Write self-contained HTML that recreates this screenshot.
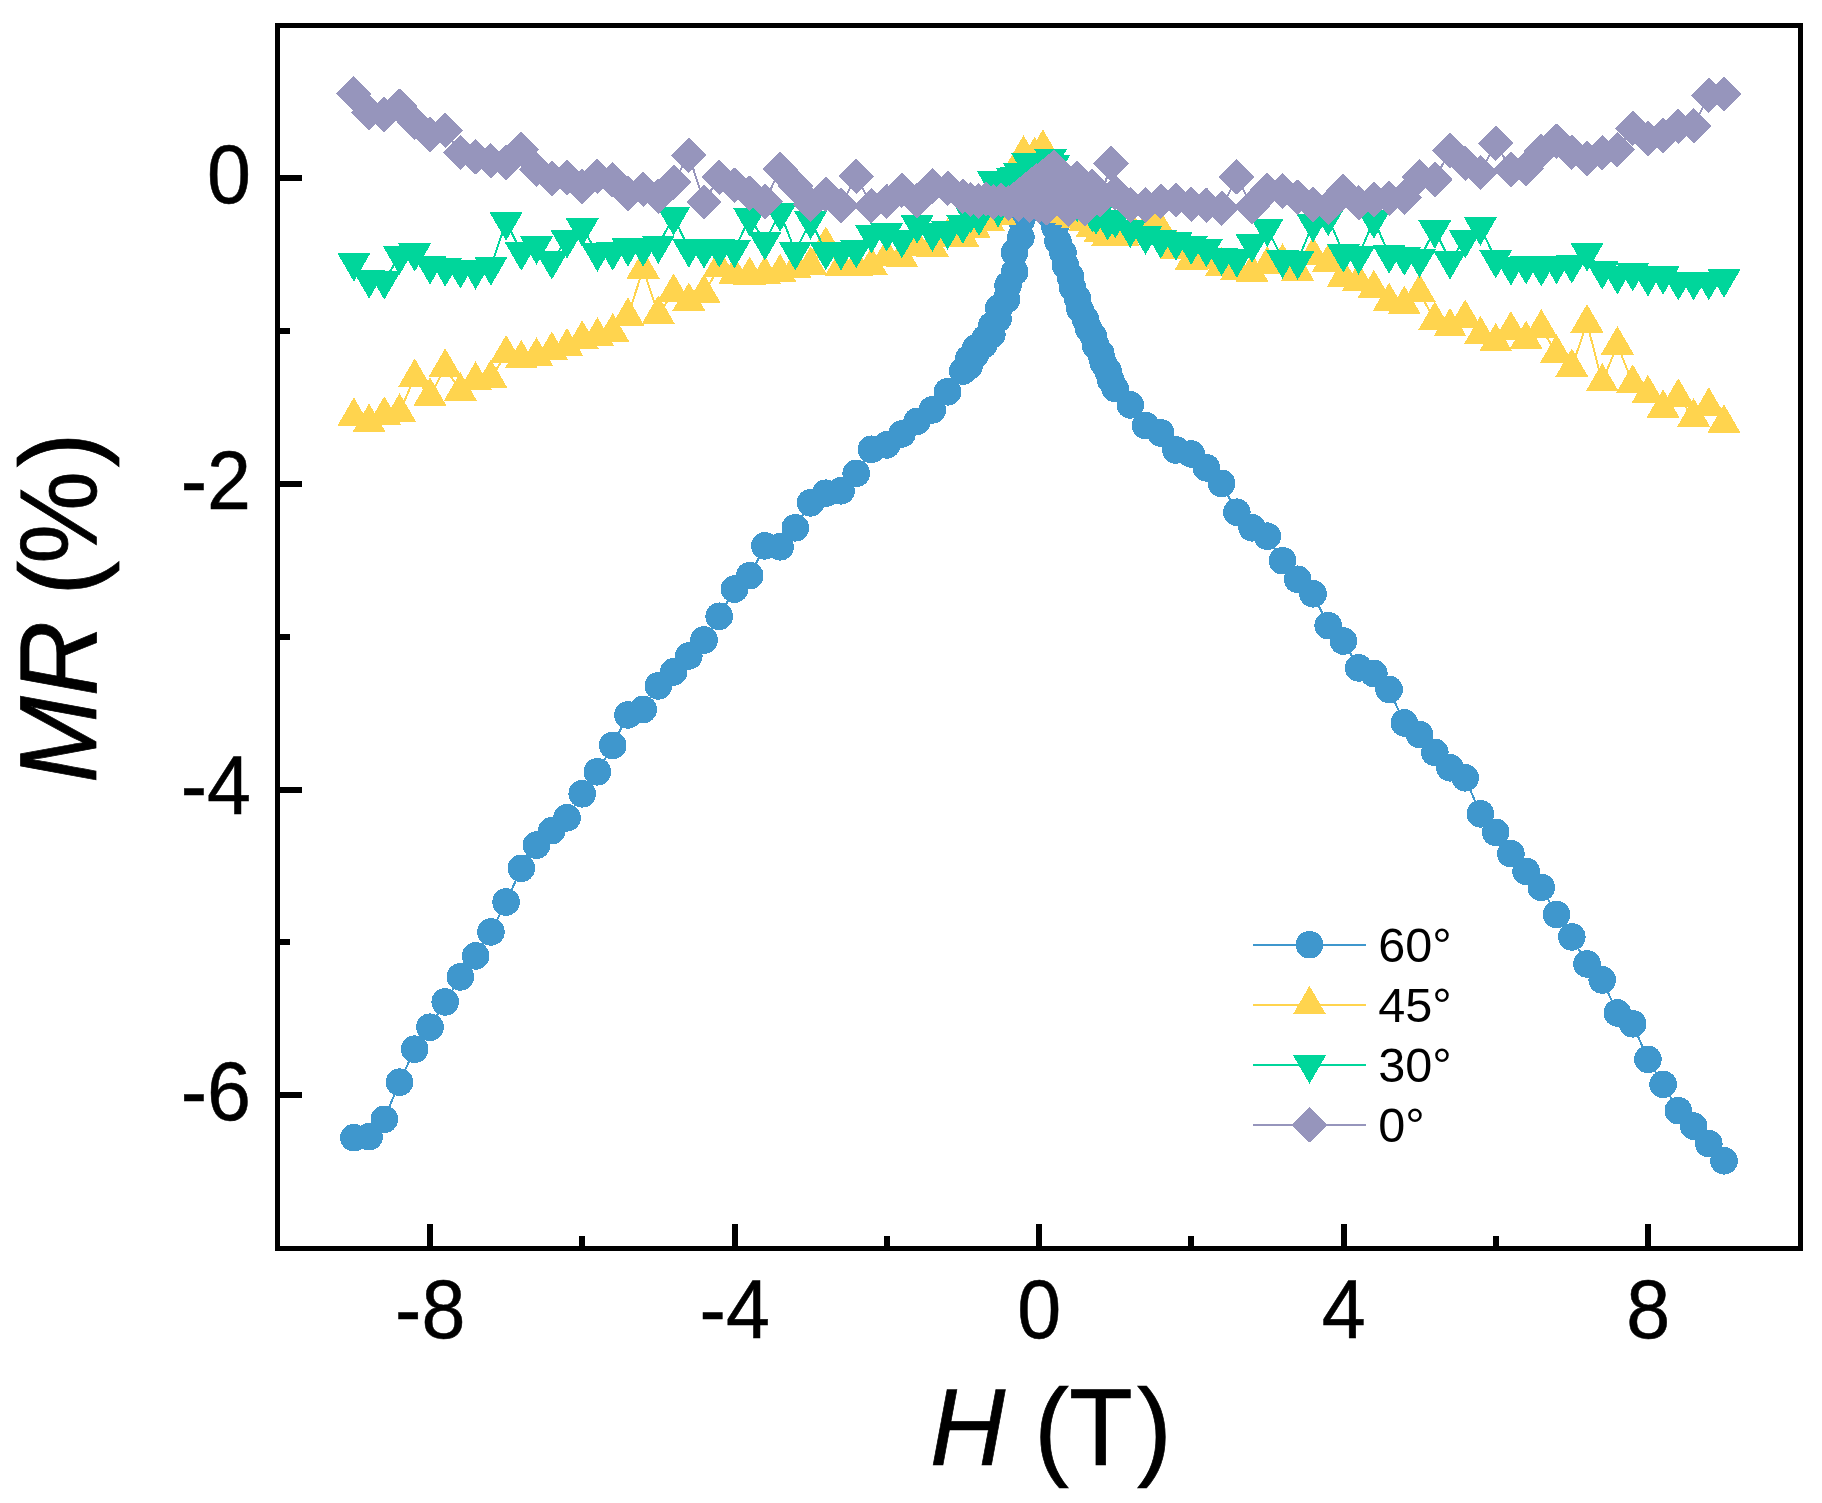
<!DOCTYPE html>
<html lang="en">
<head>
<meta charset="utf-8">
<title>MR (%) vs H (T)</title>
<style>
html,body{margin:0;padding:0;background:#fff;}
body{width:1822px;height:1503px;overflow:hidden;}
svg{display:block;}
</style>
</head>
<body>
<svg width="1822" height="1503" viewBox="0 0 1822 1503">
<rect x="0" y="0" width="1822" height="1503" fill="#fff"/>
<g shape-rendering="crispEdges">
<polyline points="353.9,1137.7 369.1,1136.7 384.3,1119.3 399.5,1082.2 414.7,1049.2 430,1027.2 445.2,1001.9 460.4,976.9 475.6,955.9 490.9,931.9 506.1,902 521.3,868.3 536.5,845.1 551.8,830.7 567,817.8 582.2,793.8 597.4,771.8 612.7,745.4 627.9,714.9 643.1,709.5 658.3,685.9 673.6,671.9 688.8,655.9 704,640 719.2,616.3 734.5,589.1 749.7,575.7 764.9,545.8 780.1,546.8 795.3,527.8 810.6,502.8 825.8,493.2 841,490.8 856.2,473.4 871.5,449.3 886.7,444.9 901.9,433.9 917.1,421.3 932.4,409.9 947.6,391.8 962.8,371 968.8,358.6 969,366.2 975.2,355 975.9,347.8 983.7,344.9 985.3,338.2 991.7,325.6 991.9,334.6 998.1,318.7 998.7,308.3 1006.5,299.3 1008.1,285.2 1014.5,252.7 1014.7,271.9 1020.9,237.3 1021.5,219.9 1029.3,208.9 1030.9,196.3 1037.5,189.6 1039.2,180 1043,191.4 1046.8,202.9 1049.7,214.6 1055,227.1 1058,241.4 1063,252.8 1065.3,265.1 1070.4,276.6 1072.7,288 1077.5,298.4 1080.1,309.5 1085.4,319.5 1088.4,328.3 1093.4,336.5 1095.7,345.5 1100.8,353.7 1103.2,362.7 1108,371.1 1110.6,380.1 1115.1,388.5 1130.3,404.9 1145.5,425.5 1160.7,432.9 1175.9,449.9 1191.2,453.9 1206.4,467.8 1221.6,483.4 1236.8,512.2 1252.1,527.8 1267.3,536.2 1282.5,560.7 1297.7,579.3 1313,593.8 1328.2,625.6 1343.4,641 1358.6,667.9 1373.9,673.5 1389.1,689.5 1404.3,722.9 1419.5,734.5 1434.8,752.4 1450,767.8 1465.2,777.8 1480.4,813.8 1495.7,832.3 1510.9,853.7 1526.1,871.3 1541.3,887.4 1556.5,914.4 1571.8,936.9 1587,963.9 1602.2,979.9 1617.4,1012.9 1632.7,1023.8 1647.9,1059.4 1663.1,1084.4 1678.3,1110.7 1693.6,1126.1 1708.8,1143.7 1724,1160.8" fill="none" stroke="#3F97CD" stroke-width="2" stroke-linejoin="round"/>
<path d="M353.9,1137.7m-13.8,0a13.8,13.8 0 1,0 27.6,0a13.8,13.8 0 1,0 -27.6,0zM369.1,1136.7m-13.8,0a13.8,13.8 0 1,0 27.6,0a13.8,13.8 0 1,0 -27.6,0zM384.3,1119.3m-13.8,0a13.8,13.8 0 1,0 27.6,0a13.8,13.8 0 1,0 -27.6,0zM399.5,1082.2m-13.8,0a13.8,13.8 0 1,0 27.6,0a13.8,13.8 0 1,0 -27.6,0zM414.7,1049.2m-13.8,0a13.8,13.8 0 1,0 27.6,0a13.8,13.8 0 1,0 -27.6,0zM430,1027.2m-13.8,0a13.8,13.8 0 1,0 27.6,0a13.8,13.8 0 1,0 -27.6,0zM445.2,1001.9m-13.8,0a13.8,13.8 0 1,0 27.6,0a13.8,13.8 0 1,0 -27.6,0zM460.4,976.9m-13.8,0a13.8,13.8 0 1,0 27.6,0a13.8,13.8 0 1,0 -27.6,0zM475.6,955.9m-13.8,0a13.8,13.8 0 1,0 27.6,0a13.8,13.8 0 1,0 -27.6,0zM490.9,931.9m-13.8,0a13.8,13.8 0 1,0 27.6,0a13.8,13.8 0 1,0 -27.6,0zM506.1,902m-13.8,0a13.8,13.8 0 1,0 27.6,0a13.8,13.8 0 1,0 -27.6,0zM521.3,868.3m-13.8,0a13.8,13.8 0 1,0 27.6,0a13.8,13.8 0 1,0 -27.6,0zM536.5,845.1m-13.8,0a13.8,13.8 0 1,0 27.6,0a13.8,13.8 0 1,0 -27.6,0zM551.8,830.7m-13.8,0a13.8,13.8 0 1,0 27.6,0a13.8,13.8 0 1,0 -27.6,0zM567,817.8m-13.8,0a13.8,13.8 0 1,0 27.6,0a13.8,13.8 0 1,0 -27.6,0zM582.2,793.8m-13.8,0a13.8,13.8 0 1,0 27.6,0a13.8,13.8 0 1,0 -27.6,0zM597.4,771.8m-13.8,0a13.8,13.8 0 1,0 27.6,0a13.8,13.8 0 1,0 -27.6,0zM612.7,745.4m-13.8,0a13.8,13.8 0 1,0 27.6,0a13.8,13.8 0 1,0 -27.6,0zM627.9,714.9m-13.8,0a13.8,13.8 0 1,0 27.6,0a13.8,13.8 0 1,0 -27.6,0zM643.1,709.5m-13.8,0a13.8,13.8 0 1,0 27.6,0a13.8,13.8 0 1,0 -27.6,0zM658.3,685.9m-13.8,0a13.8,13.8 0 1,0 27.6,0a13.8,13.8 0 1,0 -27.6,0zM673.6,671.9m-13.8,0a13.8,13.8 0 1,0 27.6,0a13.8,13.8 0 1,0 -27.6,0zM688.8,655.9m-13.8,0a13.8,13.8 0 1,0 27.6,0a13.8,13.8 0 1,0 -27.6,0zM704,640m-13.8,0a13.8,13.8 0 1,0 27.6,0a13.8,13.8 0 1,0 -27.6,0zM719.2,616.3m-13.8,0a13.8,13.8 0 1,0 27.6,0a13.8,13.8 0 1,0 -27.6,0zM734.5,589.1m-13.8,0a13.8,13.8 0 1,0 27.6,0a13.8,13.8 0 1,0 -27.6,0zM749.7,575.7m-13.8,0a13.8,13.8 0 1,0 27.6,0a13.8,13.8 0 1,0 -27.6,0zM764.9,545.8m-13.8,0a13.8,13.8 0 1,0 27.6,0a13.8,13.8 0 1,0 -27.6,0zM780.1,546.8m-13.8,0a13.8,13.8 0 1,0 27.6,0a13.8,13.8 0 1,0 -27.6,0zM795.3,527.8m-13.8,0a13.8,13.8 0 1,0 27.6,0a13.8,13.8 0 1,0 -27.6,0zM810.6,502.8m-13.8,0a13.8,13.8 0 1,0 27.6,0a13.8,13.8 0 1,0 -27.6,0zM825.8,493.2m-13.8,0a13.8,13.8 0 1,0 27.6,0a13.8,13.8 0 1,0 -27.6,0zM841,490.8m-13.8,0a13.8,13.8 0 1,0 27.6,0a13.8,13.8 0 1,0 -27.6,0zM856.2,473.4m-13.8,0a13.8,13.8 0 1,0 27.6,0a13.8,13.8 0 1,0 -27.6,0zM871.5,449.3m-13.8,0a13.8,13.8 0 1,0 27.6,0a13.8,13.8 0 1,0 -27.6,0zM886.7,444.9m-13.8,0a13.8,13.8 0 1,0 27.6,0a13.8,13.8 0 1,0 -27.6,0zM901.9,433.9m-13.8,0a13.8,13.8 0 1,0 27.6,0a13.8,13.8 0 1,0 -27.6,0zM917.1,421.3m-13.8,0a13.8,13.8 0 1,0 27.6,0a13.8,13.8 0 1,0 -27.6,0zM932.4,409.9m-13.8,0a13.8,13.8 0 1,0 27.6,0a13.8,13.8 0 1,0 -27.6,0zM947.6,391.8m-13.8,0a13.8,13.8 0 1,0 27.6,0a13.8,13.8 0 1,0 -27.6,0zM962.8,371m-13.8,0a13.8,13.8 0 1,0 27.6,0a13.8,13.8 0 1,0 -27.6,0zM968.8,358.6m-13.8,0a13.8,13.8 0 1,0 27.6,0a13.8,13.8 0 1,0 -27.6,0zM969,366.2m-13.8,0a13.8,13.8 0 1,0 27.6,0a13.8,13.8 0 1,0 -27.6,0zM975.2,355m-13.8,0a13.8,13.8 0 1,0 27.6,0a13.8,13.8 0 1,0 -27.6,0zM975.9,347.8m-13.8,0a13.8,13.8 0 1,0 27.6,0a13.8,13.8 0 1,0 -27.6,0zM983.7,344.9m-13.8,0a13.8,13.8 0 1,0 27.6,0a13.8,13.8 0 1,0 -27.6,0zM985.3,338.2m-13.8,0a13.8,13.8 0 1,0 27.6,0a13.8,13.8 0 1,0 -27.6,0zM991.7,325.6m-13.8,0a13.8,13.8 0 1,0 27.6,0a13.8,13.8 0 1,0 -27.6,0zM991.9,334.6m-13.8,0a13.8,13.8 0 1,0 27.6,0a13.8,13.8 0 1,0 -27.6,0zM998.1,318.7m-13.8,0a13.8,13.8 0 1,0 27.6,0a13.8,13.8 0 1,0 -27.6,0zM998.7,308.3m-13.8,0a13.8,13.8 0 1,0 27.6,0a13.8,13.8 0 1,0 -27.6,0zM1006.5,299.3m-13.8,0a13.8,13.8 0 1,0 27.6,0a13.8,13.8 0 1,0 -27.6,0zM1008.1,285.2m-13.8,0a13.8,13.8 0 1,0 27.6,0a13.8,13.8 0 1,0 -27.6,0zM1014.5,252.7m-13.8,0a13.8,13.8 0 1,0 27.6,0a13.8,13.8 0 1,0 -27.6,0zM1014.7,271.9m-13.8,0a13.8,13.8 0 1,0 27.6,0a13.8,13.8 0 1,0 -27.6,0zM1020.9,237.3m-13.8,0a13.8,13.8 0 1,0 27.6,0a13.8,13.8 0 1,0 -27.6,0zM1021.5,219.9m-13.8,0a13.8,13.8 0 1,0 27.6,0a13.8,13.8 0 1,0 -27.6,0zM1029.3,208.9m-13.8,0a13.8,13.8 0 1,0 27.6,0a13.8,13.8 0 1,0 -27.6,0zM1030.9,196.3m-13.8,0a13.8,13.8 0 1,0 27.6,0a13.8,13.8 0 1,0 -27.6,0zM1037.5,189.6m-13.8,0a13.8,13.8 0 1,0 27.6,0a13.8,13.8 0 1,0 -27.6,0zM1039.2,180m-13.8,0a13.8,13.8 0 1,0 27.6,0a13.8,13.8 0 1,0 -27.6,0zM1043,191.4m-13.8,0a13.8,13.8 0 1,0 27.6,0a13.8,13.8 0 1,0 -27.6,0zM1046.8,202.9m-13.8,0a13.8,13.8 0 1,0 27.6,0a13.8,13.8 0 1,0 -27.6,0zM1049.7,214.6m-13.8,0a13.8,13.8 0 1,0 27.6,0a13.8,13.8 0 1,0 -27.6,0zM1055,227.1m-13.8,0a13.8,13.8 0 1,0 27.6,0a13.8,13.8 0 1,0 -27.6,0zM1058,241.4m-13.8,0a13.8,13.8 0 1,0 27.6,0a13.8,13.8 0 1,0 -27.6,0zM1063,252.8m-13.8,0a13.8,13.8 0 1,0 27.6,0a13.8,13.8 0 1,0 -27.6,0zM1065.3,265.1m-13.8,0a13.8,13.8 0 1,0 27.6,0a13.8,13.8 0 1,0 -27.6,0zM1070.4,276.6m-13.8,0a13.8,13.8 0 1,0 27.6,0a13.8,13.8 0 1,0 -27.6,0zM1072.7,288m-13.8,0a13.8,13.8 0 1,0 27.6,0a13.8,13.8 0 1,0 -27.6,0zM1077.5,298.4m-13.8,0a13.8,13.8 0 1,0 27.6,0a13.8,13.8 0 1,0 -27.6,0zM1080.1,309.5m-13.8,0a13.8,13.8 0 1,0 27.6,0a13.8,13.8 0 1,0 -27.6,0zM1085.4,319.5m-13.8,0a13.8,13.8 0 1,0 27.6,0a13.8,13.8 0 1,0 -27.6,0zM1088.4,328.3m-13.8,0a13.8,13.8 0 1,0 27.6,0a13.8,13.8 0 1,0 -27.6,0zM1093.4,336.5m-13.8,0a13.8,13.8 0 1,0 27.6,0a13.8,13.8 0 1,0 -27.6,0zM1095.7,345.5m-13.8,0a13.8,13.8 0 1,0 27.6,0a13.8,13.8 0 1,0 -27.6,0zM1100.8,353.7m-13.8,0a13.8,13.8 0 1,0 27.6,0a13.8,13.8 0 1,0 -27.6,0zM1103.2,362.7m-13.8,0a13.8,13.8 0 1,0 27.6,0a13.8,13.8 0 1,0 -27.6,0zM1108,371.1m-13.8,0a13.8,13.8 0 1,0 27.6,0a13.8,13.8 0 1,0 -27.6,0zM1110.6,380.1m-13.8,0a13.8,13.8 0 1,0 27.6,0a13.8,13.8 0 1,0 -27.6,0zM1115.1,388.5m-13.8,0a13.8,13.8 0 1,0 27.6,0a13.8,13.8 0 1,0 -27.6,0zM1130.3,404.9m-13.8,0a13.8,13.8 0 1,0 27.6,0a13.8,13.8 0 1,0 -27.6,0zM1145.5,425.5m-13.8,0a13.8,13.8 0 1,0 27.6,0a13.8,13.8 0 1,0 -27.6,0zM1160.7,432.9m-13.8,0a13.8,13.8 0 1,0 27.6,0a13.8,13.8 0 1,0 -27.6,0zM1175.9,449.9m-13.8,0a13.8,13.8 0 1,0 27.6,0a13.8,13.8 0 1,0 -27.6,0zM1191.2,453.9m-13.8,0a13.8,13.8 0 1,0 27.6,0a13.8,13.8 0 1,0 -27.6,0zM1206.4,467.8m-13.8,0a13.8,13.8 0 1,0 27.6,0a13.8,13.8 0 1,0 -27.6,0zM1221.6,483.4m-13.8,0a13.8,13.8 0 1,0 27.6,0a13.8,13.8 0 1,0 -27.6,0zM1236.8,512.2m-13.8,0a13.8,13.8 0 1,0 27.6,0a13.8,13.8 0 1,0 -27.6,0zM1252.1,527.8m-13.8,0a13.8,13.8 0 1,0 27.6,0a13.8,13.8 0 1,0 -27.6,0zM1267.3,536.2m-13.8,0a13.8,13.8 0 1,0 27.6,0a13.8,13.8 0 1,0 -27.6,0zM1282.5,560.7m-13.8,0a13.8,13.8 0 1,0 27.6,0a13.8,13.8 0 1,0 -27.6,0zM1297.7,579.3m-13.8,0a13.8,13.8 0 1,0 27.6,0a13.8,13.8 0 1,0 -27.6,0zM1313,593.8m-13.8,0a13.8,13.8 0 1,0 27.6,0a13.8,13.8 0 1,0 -27.6,0zM1328.2,625.6m-13.8,0a13.8,13.8 0 1,0 27.6,0a13.8,13.8 0 1,0 -27.6,0zM1343.4,641m-13.8,0a13.8,13.8 0 1,0 27.6,0a13.8,13.8 0 1,0 -27.6,0zM1358.6,667.9m-13.8,0a13.8,13.8 0 1,0 27.6,0a13.8,13.8 0 1,0 -27.6,0zM1373.9,673.5m-13.8,0a13.8,13.8 0 1,0 27.6,0a13.8,13.8 0 1,0 -27.6,0zM1389.1,689.5m-13.8,0a13.8,13.8 0 1,0 27.6,0a13.8,13.8 0 1,0 -27.6,0zM1404.3,722.9m-13.8,0a13.8,13.8 0 1,0 27.6,0a13.8,13.8 0 1,0 -27.6,0zM1419.5,734.5m-13.8,0a13.8,13.8 0 1,0 27.6,0a13.8,13.8 0 1,0 -27.6,0zM1434.8,752.4m-13.8,0a13.8,13.8 0 1,0 27.6,0a13.8,13.8 0 1,0 -27.6,0zM1450,767.8m-13.8,0a13.8,13.8 0 1,0 27.6,0a13.8,13.8 0 1,0 -27.6,0zM1465.2,777.8m-13.8,0a13.8,13.8 0 1,0 27.6,0a13.8,13.8 0 1,0 -27.6,0zM1480.4,813.8m-13.8,0a13.8,13.8 0 1,0 27.6,0a13.8,13.8 0 1,0 -27.6,0zM1495.7,832.3m-13.8,0a13.8,13.8 0 1,0 27.6,0a13.8,13.8 0 1,0 -27.6,0zM1510.9,853.7m-13.8,0a13.8,13.8 0 1,0 27.6,0a13.8,13.8 0 1,0 -27.6,0zM1526.1,871.3m-13.8,0a13.8,13.8 0 1,0 27.6,0a13.8,13.8 0 1,0 -27.6,0zM1541.3,887.4m-13.8,0a13.8,13.8 0 1,0 27.6,0a13.8,13.8 0 1,0 -27.6,0zM1556.5,914.4m-13.8,0a13.8,13.8 0 1,0 27.6,0a13.8,13.8 0 1,0 -27.6,0zM1571.8,936.9m-13.8,0a13.8,13.8 0 1,0 27.6,0a13.8,13.8 0 1,0 -27.6,0zM1587,963.9m-13.8,0a13.8,13.8 0 1,0 27.6,0a13.8,13.8 0 1,0 -27.6,0zM1602.2,979.9m-13.8,0a13.8,13.8 0 1,0 27.6,0a13.8,13.8 0 1,0 -27.6,0zM1617.4,1012.9m-13.8,0a13.8,13.8 0 1,0 27.6,0a13.8,13.8 0 1,0 -27.6,0zM1632.7,1023.8m-13.8,0a13.8,13.8 0 1,0 27.6,0a13.8,13.8 0 1,0 -27.6,0zM1647.9,1059.4m-13.8,0a13.8,13.8 0 1,0 27.6,0a13.8,13.8 0 1,0 -27.6,0zM1663.1,1084.4m-13.8,0a13.8,13.8 0 1,0 27.6,0a13.8,13.8 0 1,0 -27.6,0zM1678.3,1110.7m-13.8,0a13.8,13.8 0 1,0 27.6,0a13.8,13.8 0 1,0 -27.6,0zM1693.6,1126.1m-13.8,0a13.8,13.8 0 1,0 27.6,0a13.8,13.8 0 1,0 -27.6,0zM1708.8,1143.7m-13.8,0a13.8,13.8 0 1,0 27.6,0a13.8,13.8 0 1,0 -27.6,0zM1724,1160.8m-13.8,0a13.8,13.8 0 1,0 27.6,0a13.8,13.8 0 1,0 -27.6,0z" fill="#3F97CD"/>
<polyline points="353.9,416.4 369.1,422.4 384.3,415.2 399.5,412.2 414.7,377.3 430,396.2 445.2,367.3 460.4,391.2 475.6,380.3 490.9,378.3 506.1,353.9 521.3,358.9 536.5,356.1 551.8,350.5 567,346.9 582.2,339.3 597.4,336.1 612.7,332.1 627.9,316.3 643.1,269 658.3,314.3 673.6,292.4 688.8,301.3 704,293.1 719.2,267.4 734.5,274.9 749.7,275.5 764.9,274.9 780.1,272.7 795.3,268.7 810.6,265.4 825.8,245.3 841,266.7 856.2,266.1 871.5,265.8 886.7,256.9 901.9,257.9 917.1,246.5 932.4,247.3 947.6,237.2 962.8,237.2 974.4,228.8 988.5,221.8 1000.3,215.9 1008.7,205.5 1016.3,190.5 1023.5,154.1 1034.7,155.5 1042.9,148.3 1050.6,176.5 1058.2,196.5 1064.3,213.5 1071.1,215.9 1077.2,218.5 1084.7,221.8 1092,227.7 1100,232.6 1107.7,236.3 1114.2,236.3 1123,236.2 1134,233.5 1146,230.5 1155.4,220.4 1160.7,230.5 1175.9,249.3 1191.2,260.2 1206.4,259.6 1221.6,266.3 1236.8,270.1 1252.1,272.5 1267.3,264.9 1282.5,262.2 1297.7,271.2 1313,255.6 1328.2,262.6 1343.4,277.1 1358.6,281.3 1373.9,288.8 1389.1,301.7 1404.3,304.7 1419.5,292.8 1434.8,320.3 1450,326.8 1465.2,318.4 1480.4,334.8 1495.7,341.8 1510.9,330 1526.1,339.5 1541.3,328 1556.5,353.3 1571.8,367.3 1587,323 1602.2,381.9 1617.4,345 1632.7,383.3 1647.9,393.8 1663.1,408.2 1678.3,397.2 1693.6,417.2 1708.8,406.2 1724,423.2" fill="none" stroke="#FFD44E" stroke-width="2" stroke-linejoin="round"/>
<path d="M353.9,397.4l16.5,28.5h-33zM369.1,403.4l16.5,28.5h-33zM384.3,396.2l16.5,28.5h-33zM399.5,393.2l16.5,28.5h-33zM414.7,358.3l16.5,28.5h-33zM430,377.2l16.5,28.5h-33zM445.2,348.3l16.5,28.5h-33zM460.4,372.2l16.5,28.5h-33zM475.6,361.3l16.5,28.5h-33zM490.9,359.3l16.5,28.5h-33zM506.1,334.9l16.5,28.5h-33zM521.3,339.9l16.5,28.5h-33zM536.5,337.1l16.5,28.5h-33zM551.8,331.5l16.5,28.5h-33zM567,327.9l16.5,28.5h-33zM582.2,320.3l16.5,28.5h-33zM597.4,317.1l16.5,28.5h-33zM612.7,313.1l16.5,28.5h-33zM627.9,297.3l16.5,28.5h-33zM643.1,250l16.5,28.5h-33zM658.3,295.3l16.5,28.5h-33zM673.6,273.4l16.5,28.5h-33zM688.8,282.3l16.5,28.5h-33zM704,274.1l16.5,28.5h-33zM719.2,248.4l16.5,28.5h-33zM734.5,255.9l16.5,28.5h-33zM749.7,256.5l16.5,28.5h-33zM764.9,255.9l16.5,28.5h-33zM780.1,253.7l16.5,28.5h-33zM795.3,249.7l16.5,28.5h-33zM810.6,246.4l16.5,28.5h-33zM825.8,226.3l16.5,28.5h-33zM841,247.7l16.5,28.5h-33zM856.2,247.1l16.5,28.5h-33zM871.5,246.8l16.5,28.5h-33zM886.7,237.9l16.5,28.5h-33zM901.9,238.9l16.5,28.5h-33zM917.1,227.5l16.5,28.5h-33zM932.4,228.3l16.5,28.5h-33zM947.6,218.2l16.5,28.5h-33zM962.8,218.2l16.5,28.5h-33zM974.4,209.8l16.5,28.5h-33zM988.5,202.8l16.5,28.5h-33zM1000.3,196.9l16.5,28.5h-33zM1008.7,186.5l16.5,28.5h-33zM1016.3,171.5l16.5,28.5h-33zM1023.5,135.1l16.5,28.5h-33zM1034.7,136.5l16.5,28.5h-33zM1042.9,129.3l16.5,28.5h-33zM1050.6,157.5l16.5,28.5h-33zM1058.2,177.5l16.5,28.5h-33zM1064.3,194.5l16.5,28.5h-33zM1071.1,196.9l16.5,28.5h-33zM1077.2,199.5l16.5,28.5h-33zM1084.7,202.8l16.5,28.5h-33zM1092,208.7l16.5,28.5h-33zM1100,213.6l16.5,28.5h-33zM1107.7,217.3l16.5,28.5h-33zM1114.2,217.3l16.5,28.5h-33zM1123,217.2l16.5,28.5h-33zM1134,214.5l16.5,28.5h-33zM1146,211.5l16.5,28.5h-33zM1155.4,201.4l16.5,28.5h-33zM1160.7,211.5l16.5,28.5h-33zM1175.9,230.3l16.5,28.5h-33zM1191.2,241.2l16.5,28.5h-33zM1206.4,240.6l16.5,28.5h-33zM1221.6,247.3l16.5,28.5h-33zM1236.8,251.1l16.5,28.5h-33zM1252.1,253.5l16.5,28.5h-33zM1267.3,245.9l16.5,28.5h-33zM1282.5,243.2l16.5,28.5h-33zM1297.7,252.2l16.5,28.5h-33zM1313,236.6l16.5,28.5h-33zM1328.2,243.6l16.5,28.5h-33zM1343.4,258.1l16.5,28.5h-33zM1358.6,262.3l16.5,28.5h-33zM1373.9,269.8l16.5,28.5h-33zM1389.1,282.7l16.5,28.5h-33zM1404.3,285.7l16.5,28.5h-33zM1419.5,273.8l16.5,28.5h-33zM1434.8,301.3l16.5,28.5h-33zM1450,307.8l16.5,28.5h-33zM1465.2,299.4l16.5,28.5h-33zM1480.4,315.8l16.5,28.5h-33zM1495.7,322.8l16.5,28.5h-33zM1510.9,311l16.5,28.5h-33zM1526.1,320.5l16.5,28.5h-33zM1541.3,309l16.5,28.5h-33zM1556.5,334.3l16.5,28.5h-33zM1571.8,348.3l16.5,28.5h-33zM1587,304l16.5,28.5h-33zM1602.2,362.9l16.5,28.5h-33zM1617.4,326l16.5,28.5h-33zM1632.7,364.3l16.5,28.5h-33zM1647.9,374.8l16.5,28.5h-33zM1663.1,389.2l16.5,28.5h-33zM1678.3,378.2l16.5,28.5h-33zM1693.6,398.2l16.5,28.5h-33zM1708.8,387.2l16.5,28.5h-33zM1724,404.2l16.5,28.5h-33z" fill="#FFD44E"/>
<polyline points="353.9,262.7 369.1,279.7 384.3,280.7 399.5,255.8 414.7,252.8 430,265.7 445.2,267.7 460.4,269.7 475.6,270.7 490.9,266.7 506.1,221.8 521.3,251.8 536.5,245.8 551.8,260.7 567,239.8 582.2,227.8 597.4,252.8 612.7,251.8 627.9,247.8 643.1,247.8 658.3,245 673.6,216.8 688.8,248.8 704,249.8 719.2,248.5 734.5,249.4 749.7,217.7 764.9,241.5 780.1,212.8 795.3,251.4 810.6,220.7 825.8,251.4 841,251.4 856.2,249.4 871.5,234.5 886.7,232.6 901.9,239.3 917.1,224.7 932.4,232.8 947.6,230.8 962.8,224.8 970.6,214.5 979,217 985.9,204.5 993.5,180.9 998,208.5 1004.9,189.5 1012.5,177.6 1016.3,176.6 1019.4,172.6 1023.9,184.5 1027.5,162.4 1033.1,169.5 1039.2,165.5 1044.5,167.5 1050.6,158.5 1053.6,164.7 1058.2,185.5 1062,193.5 1069.6,199.5 1077.2,203.5 1084.8,207.5 1092.4,213.5 1096.2,215.7 1107.7,221.6 1115.3,219.6 1130.3,229 1145.5,235.9 1160.7,239.8 1175.9,241.8 1191.2,245.8 1206.4,248.4 1221.6,257 1236.8,258.9 1252.1,243.8 1267.3,228 1282.5,259.6 1297.7,260.9 1313,223.4 1328.2,217.4 1343.4,253.7 1358.6,255.7 1373.9,219.8 1389.1,254.8 1404.3,256.8 1419.5,258.7 1434.8,229.8 1450,260.6 1465.2,239.5 1480.4,226.9 1495.7,259.5 1510.9,266.6 1526.1,265.5 1541.3,267.6 1556.5,265.3 1571.8,264.6 1587,252.7 1602.2,270.6 1617.4,275.5 1632.7,272.5 1647.9,277.6 1663.1,275.8 1678.3,281.5 1693.6,281.5 1708.8,281.3 1724,278.9" fill="none" stroke="#00D69B" stroke-width="2" stroke-linejoin="round"/>
<path d="M353.9,281.7l-16.5,-28.5h33zM369.1,298.7l-16.5,-28.5h33zM384.3,299.7l-16.5,-28.5h33zM399.5,274.8l-16.5,-28.5h33zM414.7,271.8l-16.5,-28.5h33zM430,284.7l-16.5,-28.5h33zM445.2,286.7l-16.5,-28.5h33zM460.4,288.7l-16.5,-28.5h33zM475.6,289.7l-16.5,-28.5h33zM490.9,285.7l-16.5,-28.5h33zM506.1,240.8l-16.5,-28.5h33zM521.3,270.8l-16.5,-28.5h33zM536.5,264.8l-16.5,-28.5h33zM551.8,279.7l-16.5,-28.5h33zM567,258.8l-16.5,-28.5h33zM582.2,246.8l-16.5,-28.5h33zM597.4,271.8l-16.5,-28.5h33zM612.7,270.8l-16.5,-28.5h33zM627.9,266.8l-16.5,-28.5h33zM643.1,266.8l-16.5,-28.5h33zM658.3,264l-16.5,-28.5h33zM673.6,235.8l-16.5,-28.5h33zM688.8,267.8l-16.5,-28.5h33zM704,268.8l-16.5,-28.5h33zM719.2,267.5l-16.5,-28.5h33zM734.5,268.4l-16.5,-28.5h33zM749.7,236.7l-16.5,-28.5h33zM764.9,260.5l-16.5,-28.5h33zM780.1,231.8l-16.5,-28.5h33zM795.3,270.4l-16.5,-28.5h33zM810.6,239.7l-16.5,-28.5h33zM825.8,270.4l-16.5,-28.5h33zM841,270.4l-16.5,-28.5h33zM856.2,268.4l-16.5,-28.5h33zM871.5,253.5l-16.5,-28.5h33zM886.7,251.6l-16.5,-28.5h33zM901.9,258.3l-16.5,-28.5h33zM917.1,243.7l-16.5,-28.5h33zM932.4,251.8l-16.5,-28.5h33zM947.6,249.8l-16.5,-28.5h33zM962.8,243.8l-16.5,-28.5h33zM970.6,233.5l-16.5,-28.5h33zM979,236l-16.5,-28.5h33zM985.9,223.5l-16.5,-28.5h33zM993.5,199.9l-16.5,-28.5h33zM998,227.5l-16.5,-28.5h33zM1004.9,208.5l-16.5,-28.5h33zM1012.5,196.6l-16.5,-28.5h33zM1016.3,195.6l-16.5,-28.5h33zM1019.4,191.6l-16.5,-28.5h33zM1023.9,203.5l-16.5,-28.5h33zM1027.5,181.4l-16.5,-28.5h33zM1033.1,188.5l-16.5,-28.5h33zM1039.2,184.5l-16.5,-28.5h33zM1044.5,186.5l-16.5,-28.5h33zM1050.6,177.5l-16.5,-28.5h33zM1053.6,183.7l-16.5,-28.5h33zM1058.2,204.5l-16.5,-28.5h33zM1062,212.5l-16.5,-28.5h33zM1069.6,218.5l-16.5,-28.5h33zM1077.2,222.5l-16.5,-28.5h33zM1084.8,226.5l-16.5,-28.5h33zM1092.4,232.5l-16.5,-28.5h33zM1096.2,234.7l-16.5,-28.5h33zM1107.7,240.6l-16.5,-28.5h33zM1115.3,238.6l-16.5,-28.5h33zM1130.3,248l-16.5,-28.5h33zM1145.5,254.9l-16.5,-28.5h33zM1160.7,258.8l-16.5,-28.5h33zM1175.9,260.8l-16.5,-28.5h33zM1191.2,264.8l-16.5,-28.5h33zM1206.4,267.4l-16.5,-28.5h33zM1221.6,276l-16.5,-28.5h33zM1236.8,277.9l-16.5,-28.5h33zM1252.1,262.8l-16.5,-28.5h33zM1267.3,247l-16.5,-28.5h33zM1282.5,278.6l-16.5,-28.5h33zM1297.7,279.9l-16.5,-28.5h33zM1313,242.4l-16.5,-28.5h33zM1328.2,236.4l-16.5,-28.5h33zM1343.4,272.7l-16.5,-28.5h33zM1358.6,274.7l-16.5,-28.5h33zM1373.9,238.8l-16.5,-28.5h33zM1389.1,273.8l-16.5,-28.5h33zM1404.3,275.8l-16.5,-28.5h33zM1419.5,277.7l-16.5,-28.5h33zM1434.8,248.8l-16.5,-28.5h33zM1450,279.6l-16.5,-28.5h33zM1465.2,258.5l-16.5,-28.5h33zM1480.4,245.9l-16.5,-28.5h33zM1495.7,278.5l-16.5,-28.5h33zM1510.9,285.6l-16.5,-28.5h33zM1526.1,284.5l-16.5,-28.5h33zM1541.3,286.6l-16.5,-28.5h33zM1556.5,284.3l-16.5,-28.5h33zM1571.8,283.6l-16.5,-28.5h33zM1587,271.7l-16.5,-28.5h33zM1602.2,289.6l-16.5,-28.5h33zM1617.4,294.5l-16.5,-28.5h33zM1632.7,291.5l-16.5,-28.5h33zM1647.9,296.6l-16.5,-28.5h33zM1663.1,294.8l-16.5,-28.5h33zM1678.3,300.5l-16.5,-28.5h33zM1693.6,300.5l-16.5,-28.5h33zM1708.8,300.3l-16.5,-28.5h33zM1724,297.9l-16.5,-28.5h33z" fill="#00D69B"/>
<polyline points="353.9,94 369.1,112.5 384.3,114.5 399.5,106.3 414.7,122.5 430,134.5 445.2,130.3 460.4,152.5 475.6,156.9 490.9,160.9 506.1,162.5 521.3,149.3 536.5,169.5 551.8,178.5 567,177.3 582.2,186.5 597.4,176.3 612.7,179.9 627.9,193.4 643.1,189.2 658.3,196.4 673.6,182.3 688.8,155.1 704,201.9 719.2,177.3 734.5,185.2 749.7,193.1 764.9,201.5 780.1,169.1 795.3,186.1 810.6,204.4 825.8,194.4 841,205.5 856.2,176.1 871.5,205.7 886.7,201.5 901.9,190.2 917.1,200.7 932.4,186 947.6,188.3 962.8,196.3 970.6,199.5 978.3,201 985.9,199 993.5,202 1001.1,200 1008.7,203 1014,199.4 1018.6,204 1020.1,194.5 1026.2,189.4 1029.3,205 1031.5,185.1 1036.9,180.9 1039.2,206 1043,176 1046.8,208 1048.3,171.8 1054.1,167.3 1062,190 1068.8,209.4 1073.4,194 1077.2,178.5 1084.8,208.7 1091.7,186.4 1100,200 1111,163.5 1115.3,192.8 1130.3,205 1145.5,205 1160.7,201.3 1175.9,200 1191.2,204.3 1206.4,205.2 1221.6,208.3 1236.8,177 1252.1,206.7 1267.3,190.2 1282.5,191.1 1297.7,197.1 1313,204.3 1328.2,207.3 1343.4,191.4 1358.6,202.7 1373.9,199.4 1389.1,198.2 1404.3,197.4 1419.5,176.7 1434.8,179.5 1450,150.3 1465.2,163.3 1480.4,172.5 1495.7,143.3 1510.9,169.5 1526.1,168.5 1541.3,151.3 1556.5,141.3 1571.8,152.3 1587,158.5 1602.2,152.9 1617.4,149.7 1632.7,128.2 1647.9,138.4 1663.1,135.5 1678.3,126.3 1693.6,125.7 1708.8,95.3 1724,93.9" fill="none" stroke="#9695BC" stroke-width="2" stroke-linejoin="round"/>
<path d="M353.9,76.8l17.1,17.1l-17.1,17.1l-17.1,-17.1zM369.1,95.4l17.1,17.1l-17.1,17.1l-17.1,-17.1zM384.3,97.4l17.1,17.1l-17.1,17.1l-17.1,-17.1zM399.5,89.2l17.1,17.1l-17.1,17.1l-17.1,-17.1zM414.7,105.4l17.1,17.1l-17.1,17.1l-17.1,-17.1zM430,117.4l17.1,17.1l-17.1,17.1l-17.1,-17.1zM445.2,113.2l17.1,17.1l-17.1,17.1l-17.1,-17.1zM460.4,135.4l17.1,17.1l-17.1,17.1l-17.1,-17.1zM475.6,139.8l17.1,17.1l-17.1,17.1l-17.1,-17.1zM490.9,143.8l17.1,17.1l-17.1,17.1l-17.1,-17.1zM506.1,145.4l17.1,17.1l-17.1,17.1l-17.1,-17.1zM521.3,132.2l17.1,17.1l-17.1,17.1l-17.1,-17.1zM536.5,152.4l17.1,17.1l-17.1,17.1l-17.1,-17.1zM551.8,161.4l17.1,17.1l-17.1,17.1l-17.1,-17.1zM567,160.2l17.1,17.1l-17.1,17.1l-17.1,-17.1zM582.2,169.4l17.1,17.1l-17.1,17.1l-17.1,-17.1zM597.4,159.2l17.1,17.1l-17.1,17.1l-17.1,-17.1zM612.7,162.8l17.1,17.1l-17.1,17.1l-17.1,-17.1zM627.9,176.3l17.1,17.1l-17.1,17.1l-17.1,-17.1zM643.1,172.1l17.1,17.1l-17.1,17.1l-17.1,-17.1zM658.3,179.3l17.1,17.1l-17.1,17.1l-17.1,-17.1zM673.6,165.2l17.1,17.1l-17.1,17.1l-17.1,-17.1zM688.8,138l17.1,17.1l-17.1,17.1l-17.1,-17.1zM704,184.8l17.1,17.1l-17.1,17.1l-17.1,-17.1zM719.2,160.2l17.1,17.1l-17.1,17.1l-17.1,-17.1zM734.5,168.1l17.1,17.1l-17.1,17.1l-17.1,-17.1zM749.7,176l17.1,17.1l-17.1,17.1l-17.1,-17.1zM764.9,184.4l17.1,17.1l-17.1,17.1l-17.1,-17.1zM780.1,152l17.1,17.1l-17.1,17.1l-17.1,-17.1zM795.3,169l17.1,17.1l-17.1,17.1l-17.1,-17.1zM810.6,187.3l17.1,17.1l-17.1,17.1l-17.1,-17.1zM825.8,177.3l17.1,17.1l-17.1,17.1l-17.1,-17.1zM841,188.4l17.1,17.1l-17.1,17.1l-17.1,-17.1zM856.2,159l17.1,17.1l-17.1,17.1l-17.1,-17.1zM871.5,188.6l17.1,17.1l-17.1,17.1l-17.1,-17.1zM886.7,184.4l17.1,17.1l-17.1,17.1l-17.1,-17.1zM901.9,173.1l17.1,17.1l-17.1,17.1l-17.1,-17.1zM917.1,183.6l17.1,17.1l-17.1,17.1l-17.1,-17.1zM932.4,168.9l17.1,17.1l-17.1,17.1l-17.1,-17.1zM947.6,171.2l17.1,17.1l-17.1,17.1l-17.1,-17.1zM962.8,179.2l17.1,17.1l-17.1,17.1l-17.1,-17.1zM970.6,182.4l17.1,17.1l-17.1,17.1l-17.1,-17.1zM978.3,183.9l17.1,17.1l-17.1,17.1l-17.1,-17.1zM985.9,181.9l17.1,17.1l-17.1,17.1l-17.1,-17.1zM993.5,184.9l17.1,17.1l-17.1,17.1l-17.1,-17.1zM1001.1,182.9l17.1,17.1l-17.1,17.1l-17.1,-17.1zM1008.7,185.9l17.1,17.1l-17.1,17.1l-17.1,-17.1zM1014,182.3l17.1,17.1l-17.1,17.1l-17.1,-17.1zM1018.6,186.9l17.1,17.1l-17.1,17.1l-17.1,-17.1zM1020.1,177.4l17.1,17.1l-17.1,17.1l-17.1,-17.1zM1026.2,172.3l17.1,17.1l-17.1,17.1l-17.1,-17.1zM1029.3,187.9l17.1,17.1l-17.1,17.1l-17.1,-17.1zM1031.5,168l17.1,17.1l-17.1,17.1l-17.1,-17.1zM1036.9,163.8l17.1,17.1l-17.1,17.1l-17.1,-17.1zM1039.2,188.9l17.1,17.1l-17.1,17.1l-17.1,-17.1zM1043,158.9l17.1,17.1l-17.1,17.1l-17.1,-17.1zM1046.8,190.9l17.1,17.1l-17.1,17.1l-17.1,-17.1zM1048.3,154.7l17.1,17.1l-17.1,17.1l-17.1,-17.1zM1054.1,150.2l17.1,17.1l-17.1,17.1l-17.1,-17.1zM1062,172.9l17.1,17.1l-17.1,17.1l-17.1,-17.1zM1068.8,192.3l17.1,17.1l-17.1,17.1l-17.1,-17.1zM1073.4,176.9l17.1,17.1l-17.1,17.1l-17.1,-17.1zM1077.2,161.4l17.1,17.1l-17.1,17.1l-17.1,-17.1zM1084.8,191.6l17.1,17.1l-17.1,17.1l-17.1,-17.1zM1091.7,169.3l17.1,17.1l-17.1,17.1l-17.1,-17.1zM1100,182.9l17.1,17.1l-17.1,17.1l-17.1,-17.1zM1111,146.4l17.1,17.1l-17.1,17.1l-17.1,-17.1zM1115.3,175.7l17.1,17.1l-17.1,17.1l-17.1,-17.1zM1130.3,187.9l17.1,17.1l-17.1,17.1l-17.1,-17.1zM1145.5,187.9l17.1,17.1l-17.1,17.1l-17.1,-17.1zM1160.7,184.2l17.1,17.1l-17.1,17.1l-17.1,-17.1zM1175.9,182.9l17.1,17.1l-17.1,17.1l-17.1,-17.1zM1191.2,187.2l17.1,17.1l-17.1,17.1l-17.1,-17.1zM1206.4,188.1l17.1,17.1l-17.1,17.1l-17.1,-17.1zM1221.6,191.2l17.1,17.1l-17.1,17.1l-17.1,-17.1zM1236.8,159.9l17.1,17.1l-17.1,17.1l-17.1,-17.1zM1252.1,189.6l17.1,17.1l-17.1,17.1l-17.1,-17.1zM1267.3,173.1l17.1,17.1l-17.1,17.1l-17.1,-17.1zM1282.5,174l17.1,17.1l-17.1,17.1l-17.1,-17.1zM1297.7,180l17.1,17.1l-17.1,17.1l-17.1,-17.1zM1313,187.2l17.1,17.1l-17.1,17.1l-17.1,-17.1zM1328.2,190.2l17.1,17.1l-17.1,17.1l-17.1,-17.1zM1343.4,174.3l17.1,17.1l-17.1,17.1l-17.1,-17.1zM1358.6,185.6l17.1,17.1l-17.1,17.1l-17.1,-17.1zM1373.9,182.3l17.1,17.1l-17.1,17.1l-17.1,-17.1zM1389.1,181.1l17.1,17.1l-17.1,17.1l-17.1,-17.1zM1404.3,180.3l17.1,17.1l-17.1,17.1l-17.1,-17.1zM1419.5,159.6l17.1,17.1l-17.1,17.1l-17.1,-17.1zM1434.8,162.4l17.1,17.1l-17.1,17.1l-17.1,-17.1zM1450,133.2l17.1,17.1l-17.1,17.1l-17.1,-17.1zM1465.2,146.2l17.1,17.1l-17.1,17.1l-17.1,-17.1zM1480.4,155.4l17.1,17.1l-17.1,17.1l-17.1,-17.1zM1495.7,126.2l17.1,17.1l-17.1,17.1l-17.1,-17.1zM1510.9,152.4l17.1,17.1l-17.1,17.1l-17.1,-17.1zM1526.1,151.4l17.1,17.1l-17.1,17.1l-17.1,-17.1zM1541.3,134.2l17.1,17.1l-17.1,17.1l-17.1,-17.1zM1556.5,124.2l17.1,17.1l-17.1,17.1l-17.1,-17.1zM1571.8,135.2l17.1,17.1l-17.1,17.1l-17.1,-17.1zM1587,141.4l17.1,17.1l-17.1,17.1l-17.1,-17.1zM1602.2,135.8l17.1,17.1l-17.1,17.1l-17.1,-17.1zM1617.4,132.6l17.1,17.1l-17.1,17.1l-17.1,-17.1zM1632.7,111.1l17.1,17.1l-17.1,17.1l-17.1,-17.1zM1647.9,121.3l17.1,17.1l-17.1,17.1l-17.1,-17.1zM1663.1,118.4l17.1,17.1l-17.1,17.1l-17.1,-17.1zM1678.3,109.2l17.1,17.1l-17.1,17.1l-17.1,-17.1zM1693.6,108.6l17.1,17.1l-17.1,17.1l-17.1,-17.1zM1708.8,78.2l17.1,17.1l-17.1,17.1l-17.1,-17.1zM1724,76.8l17.1,17.1l-17.1,17.1l-17.1,-17.1z" fill="#9695BC" stroke="#9695BC" stroke-width="1" stroke-linejoin="round"/>
</g>
<g shape-rendering="crispEdges">
<line x1="1253.1" y1="944.7" x2="1365.8" y2="944.7" stroke="#3F97CD" stroke-width="2"/>
<line x1="1253.1" y1="1004.8" x2="1365.8" y2="1004.8" stroke="#FFD44E" stroke-width="2"/>
<line x1="1253.1" y1="1064.8" x2="1365.8" y2="1064.8" stroke="#00D69B" stroke-width="2"/>
<line x1="1253.1" y1="1124.8" x2="1365.8" y2="1124.8" stroke="#9695BC" stroke-width="2"/>
<path d="M1309.5,944.7m-13.8,0a13.8,13.8 0 1,0 27.6,0a13.8,13.8 0 1,0 -27.6,0z" fill="#3F97CD"/>
<path d="M1309.5,985.8l16.5,28.5h-33z" fill="#FFD44E"/>
<path d="M1309.5,1083.8l-16.5,-28.5h33z" fill="#00D69B"/>
<path d="M1309.5,1107.7l17.1,17.1l-17.1,17.1l-17.1,-17.1z" fill="#9695BC" stroke="#9695BC" stroke-width="1" stroke-linejoin="round"/>
</g>
<g font-family="'Liberation Sans', sans-serif" font-size="48.6" fill="#000">
<text transform="translate(1378.2,961.9) scale(1,1.0)">60°</text>
<text transform="translate(1378.2,1022) scale(1,1.0)">45°</text>
<text transform="translate(1378.2,1082) scale(1,1.0)">30°</text>
<text transform="translate(1378.2,1142) scale(1,1.0)">0°</text>
</g>
<g stroke="#000" fill="none" shape-rendering="crispEdges">
<rect x="277.4" y="25.4" width="1523.3" height="1223.3" stroke-width="5.1"/>
<path d="M430.2,1248.7v-24.6M582.4,1248.7v-12.6M734.7,1248.7v-24.6M886.9,1248.7v-12.6M1039.2,1248.7v-24.6M1191.4,1248.7v-12.6M1343.6,1248.7v-24.6M1495.9,1248.7v-12.6M1648.1,1248.7v-24.6M277.4,178.4h24.6M277.4,331.2h12.6M277.4,484h24.6M277.4,636.8h12.6M277.4,789.6h24.6M277.4,942.4h12.6M277.4,1095.2h24.6" stroke-width="5.9"/>
</g>
<g font-family="'Liberation Sans', sans-serif" font-size="79" fill="#000" stroke="#000" stroke-width="0.5">
<text transform="translate(430.2,1338.2) scale(1,1.05)" text-anchor="middle">-8</text>
<text transform="translate(734.7,1338.2) scale(1,1.05)" text-anchor="middle">-4</text>
<text transform="translate(1039.2,1338.2) scale(1,1.05)" text-anchor="middle">0</text>
<text transform="translate(1343.6,1338.2) scale(1,1.05)" text-anchor="middle">4</text>
<text transform="translate(1648.1,1338.2) scale(1,1.05)" text-anchor="middle">8</text>
<text transform="translate(250.9,203.2) scale(1,1.05)" text-anchor="end">0</text>
<text transform="translate(250.9,508.8) scale(1,1.05)" text-anchor="end">-2</text>
<text transform="translate(250.9,814.4) scale(1,1.05)" text-anchor="end">-4</text>
<text transform="translate(250.9,1120) scale(1,1.05)" text-anchor="end">-6</text>
</g>
<g font-family="'Liberation Sans', sans-serif" font-size="104.2" fill="#000" stroke="#000" stroke-width="0.7">
<text transform="translate(930,1465) scale(1,1.05)"><tspan font-style="italic">H</tspan> (T<tspan dx="4.5">)</tspan></text>
<text transform="translate(95.8,783) rotate(-90) scale(1,1.05)"><tspan font-style="italic">MR</tspan> <tspan dx="-3.5">(</tspan><tspan dx="-3">%</tspan><tspan dx="4">)</tspan></text>
</g>
</svg>
</body>
</html>
